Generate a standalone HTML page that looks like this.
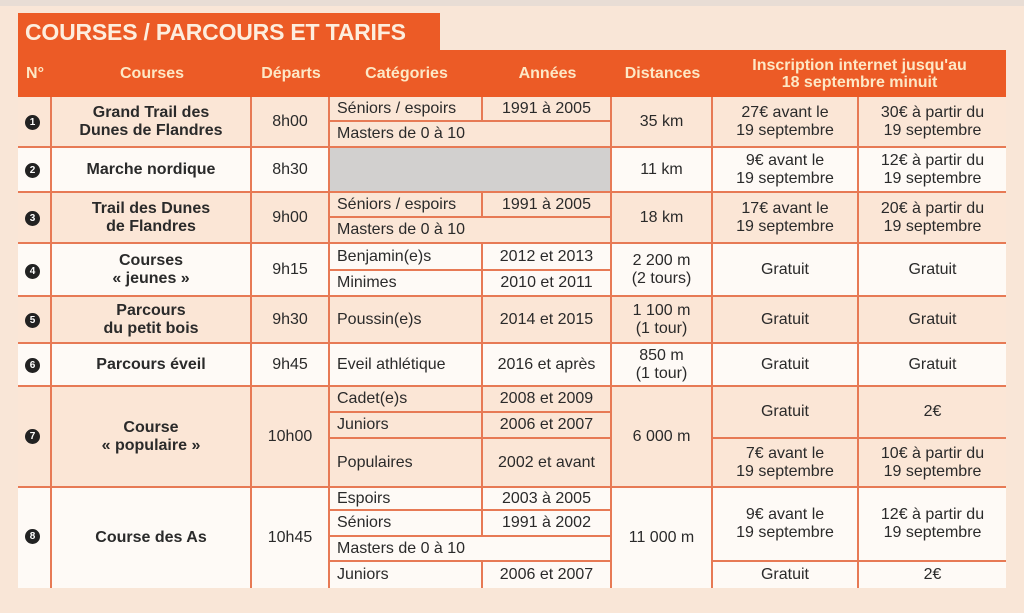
<!DOCTYPE html>
<html><head><meta charset="utf-8"><style>
body{margin:0;width:1024px;height:613px;background:#f9e6d7;font-family:"Liberation Sans",sans-serif;position:relative;overflow:hidden}
.c{position:absolute;box-sizing:border-box;display:flex;align-items:center;justify-content:center;text-align:center;border-right:2px solid #e77a55;border-bottom:2px solid #e77a55;font-size:16px;color:#2a2a2a;line-height:18px;white-space:nowrap}
.p{background:#fbe6d6}.w{background:#fefaf6}
.l{justify-content:flex-start;padding-left:7px}
.b{font-weight:bold}
.h{position:absolute;top:50px;height:47px;display:flex;align-items:center;justify-content:center;text-align:center;color:#fde8c6;font-weight:bold;font-size:16px;line-height:17px}
.n{position:absolute;left:25px;width:15px;height:15px;border-radius:50%;background:#222;color:#fff;font-size:10px;font-weight:bold;display:flex;align-items:center;justify-content:center}
</style></head><body>
<div style="position:absolute;left:0;top:0;width:1024px;height:6px;background:#e8ddd5"></div>
<div style="position:absolute;left:18px;top:13px;width:422px;height:37px;background:#ec5b26;color:#fdeede;font-weight:bold;font-size:23px;line-height:38px;padding-left:7px;box-sizing:border-box;white-space:nowrap;letter-spacing:-0.2px">COURSES / PARCOURS ET TARIFS</div>
<div style="position:absolute;left:18px;top:50px;width:988px;height:47px;background:#ec5b26"></div>
<div class="h" style="left:18px;width:34px">N°</div>
<div class="h" style="left:52px;width:200px">Courses</div>
<div class="h" style="left:252px;width:78px">Départs</div>
<div class="h" style="left:330px;width:153px">Catégories</div>
<div class="h" style="left:483px;width:129px">Années</div>
<div class="h" style="left:612px;width:101px">Distances</div>
<div class="h" style="left:713px;width:293px">Inscription internet jusqu'au<br>18 septembre minuit</div>

<!-- R1 -->
<div class="c p" style="left:18px;top:97px;width:34px;height:51px"></div>
<div class="c p b" style="left:52px;top:97px;width:200px;height:51px">Grand Trail des<br>Dunes de Flandres</div>
<div class="c p" style="left:252px;top:97px;width:78px;height:51px">8h00</div>
<div class="c p l" style="left:330px;top:97px;width:153px;height:25px">Séniors / espoirs</div>
<div class="c p" style="left:483px;top:97px;width:129px;height:25px">1991 à 2005</div>
<div class="c p l" style="left:330px;top:122px;width:282px;height:26px">Masters de 0 à 10</div>
<div class="c p" style="left:612px;top:97px;width:101px;height:51px">35 km</div>
<div class="c p" style="left:713px;top:97px;width:146px;height:51px">27€ avant le<br>19 septembre</div>
<div class="c p" style="left:859px;top:97px;width:147px;height:51px;border-right:none">30€ à partir du<br>19 septembre</div>
<div class="n" style="top:115px">1</div>
<!-- R2 -->
<div class="c w" style="left:18px;top:148px;width:34px;height:45px"></div>
<div class="c w b" style="left:52px;top:148px;width:200px;height:45px">Marche nordique</div>
<div class="c w" style="left:252px;top:148px;width:78px;height:45px">8h30</div>
<div class="c" style="left:330px;top:148px;width:282px;height:45px;background:#d2d0cf"></div>
<div class="c w" style="left:612px;top:148px;width:101px;height:45px">11 km</div>
<div class="c w" style="left:713px;top:148px;width:146px;height:45px">9€ avant le<br>19 septembre</div>
<div class="c w" style="left:859px;top:148px;width:147px;height:45px;border-right:none">12€ à partir du<br>19 septembre</div>
<div class="n" style="top:163px">2</div>
<!-- R3 -->
<div class="c p" style="left:18px;top:193px;width:34px;height:51px"></div>
<div class="c p b" style="left:52px;top:193px;width:200px;height:51px">Trail des Dunes<br>de Flandres</div>
<div class="c p" style="left:252px;top:193px;width:78px;height:51px">9h00</div>
<div class="c p l" style="left:330px;top:193px;width:153px;height:25px">Séniors / espoirs</div>
<div class="c p" style="left:483px;top:193px;width:129px;height:25px">1991 à 2005</div>
<div class="c p l" style="left:330px;top:218px;width:282px;height:26px">Masters de 0 à 10</div>
<div class="c p" style="left:612px;top:193px;width:101px;height:51px">18 km</div>
<div class="c p" style="left:713px;top:193px;width:146px;height:51px">17€ avant le<br>19 septembre</div>
<div class="c p" style="left:859px;top:193px;width:147px;height:51px;border-right:none">20€ à partir du<br>19 septembre</div>
<div class="n" style="top:211px">3</div>
<!-- R4 -->
<div class="c w" style="left:18px;top:244px;width:34px;height:53px"></div>
<div class="c w b" style="left:52px;top:244px;width:200px;height:53px">Courses<br>« jeunes »</div>
<div class="c w" style="left:252px;top:244px;width:78px;height:53px">9h15</div>
<div class="c w l" style="left:330px;top:244px;width:153px;height:27px">Benjamin(e)s</div>
<div class="c w" style="left:483px;top:244px;width:129px;height:27px">2012 et 2013</div>
<div class="c w l" style="left:330px;top:271px;width:153px;height:26px">Minimes</div>
<div class="c w" style="left:483px;top:271px;width:129px;height:26px">2010 et 2011</div>
<div class="c w" style="left:612px;top:244px;width:101px;height:53px">2 200 m<br>(2 tours)</div>
<div class="c w" style="left:713px;top:244px;width:146px;height:53px">Gratuit</div>
<div class="c w" style="left:859px;top:244px;width:147px;height:53px;border-right:none">Gratuit</div>
<div class="n" style="top:264px">4</div>
<!-- R5 -->
<div class="c p" style="left:18px;top:297px;width:34px;height:47px"></div>
<div class="c p b" style="left:52px;top:297px;width:200px;height:47px">Parcours<br>du petit bois</div>
<div class="c p" style="left:252px;top:297px;width:78px;height:47px">9h30</div>
<div class="c p l" style="left:330px;top:297px;width:153px;height:47px">Poussin(e)s</div>
<div class="c p" style="left:483px;top:297px;width:129px;height:47px">2014 et 2015</div>
<div class="c p" style="left:612px;top:297px;width:101px;height:47px">1 100 m<br>(1 tour)</div>
<div class="c p" style="left:713px;top:297px;width:146px;height:47px">Gratuit</div>
<div class="c p" style="left:859px;top:297px;width:147px;height:47px;border-right:none">Gratuit</div>
<div class="n" style="top:313px">5</div>
<!-- R6 -->
<div class="c w" style="left:18px;top:344px;width:34px;height:43px"></div>
<div class="c w b" style="left:52px;top:344px;width:200px;height:43px">Parcours éveil</div>
<div class="c w" style="left:252px;top:344px;width:78px;height:43px">9h45</div>
<div class="c w l" style="left:330px;top:344px;width:153px;height:43px">Eveil athlétique</div>
<div class="c w" style="left:483px;top:344px;width:129px;height:43px">2016 et après</div>
<div class="c w" style="left:612px;top:344px;width:101px;height:43px">850 m<br>(1 tour)</div>
<div class="c w" style="left:713px;top:344px;width:146px;height:43px">Gratuit</div>
<div class="c w" style="left:859px;top:344px;width:147px;height:43px;border-right:none">Gratuit</div>
<div class="n" style="top:358px">6</div>
<!-- R7 -->
<div class="c p" style="left:18px;top:387px;width:34px;height:101px"></div>
<div class="c p b" style="left:52px;top:387px;width:200px;height:101px">Course<br>« populaire »</div>
<div class="c p" style="left:252px;top:387px;width:78px;height:101px">10h00</div>
<div class="c p l" style="left:330px;top:387px;width:153px;height:26px">Cadet(e)s</div>
<div class="c p" style="left:483px;top:387px;width:129px;height:26px">2008 et 2009</div>
<div class="c p l" style="left:330px;top:413px;width:153px;height:26px">Juniors</div>
<div class="c p" style="left:483px;top:413px;width:129px;height:26px">2006 et 2007</div>
<div class="c p l" style="left:330px;top:439px;width:153px;height:49px">Populaires</div>
<div class="c p" style="left:483px;top:439px;width:129px;height:49px">2002 et avant</div>
<div class="c p" style="left:612px;top:387px;width:101px;height:101px">6 000 m</div>
<div class="c p" style="left:713px;top:387px;width:146px;height:52px">Gratuit</div>
<div class="c p" style="left:859px;top:387px;width:147px;height:52px;border-right:none">2€</div>
<div class="c p" style="left:713px;top:439px;width:146px;height:49px">7€ avant le<br>19 septembre</div>
<div class="c p" style="left:859px;top:439px;width:147px;height:49px;border-right:none">10€ à partir du<br>19 septembre</div>
<div class="n" style="top:429px">7</div>
<!-- R8 -->
<div class="c w" style="left:18px;top:488px;width:34px;height:100px;border-bottom:none"></div>
<div class="c w b" style="left:52px;top:488px;width:200px;height:100px;border-bottom:none">Course des As</div>
<div class="c w" style="left:252px;top:488px;width:78px;height:100px;border-bottom:none">10h45</div>
<div class="c w l" style="left:330px;top:488px;width:153px;height:23px">Espoirs</div>
<div class="c w" style="left:483px;top:488px;width:129px;height:23px">2003 à 2005</div>
<div class="c w l" style="left:330px;top:511px;width:153px;height:26px">Séniors</div>
<div class="c w" style="left:483px;top:511px;width:129px;height:26px">1991 à 2002</div>
<div class="c w l" style="left:330px;top:537px;width:282px;height:25px">Masters de 0 à 10</div>
<div class="c w l" style="left:330px;top:562px;width:153px;height:26px;border-bottom:none">Juniors</div>
<div class="c w" style="left:483px;top:562px;width:129px;height:26px;border-bottom:none">2006 et 2007</div>
<div class="c w" style="left:612px;top:488px;width:101px;height:100px;border-bottom:none">11 000 m</div>
<div class="c w" style="left:713px;top:488px;width:146px;height:74px">9€ avant le<br>19 septembre</div>
<div class="c w" style="left:859px;top:488px;width:147px;height:74px;border-right:none">12€ à partir du<br>19 septembre</div>
<div class="c w" style="left:713px;top:562px;width:146px;height:26px;border-bottom:none">Gratuit</div>
<div class="c w" style="left:859px;top:562px;width:147px;height:26px;border-right:none;border-bottom:none">2€</div>
<div class="n" style="top:529px">8</div>
</body></html>
